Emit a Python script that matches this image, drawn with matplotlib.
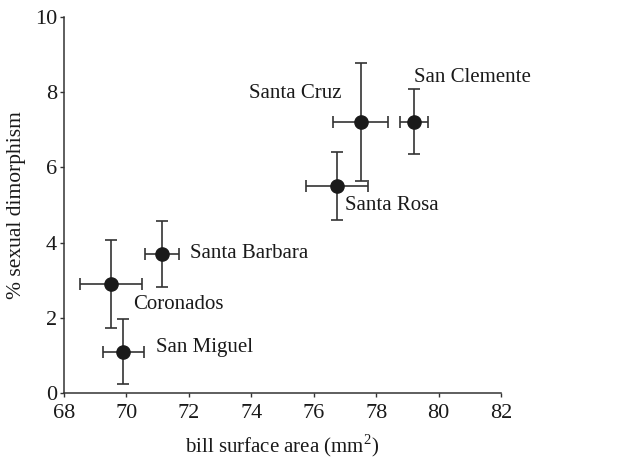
import matplotlib
matplotlib.use('Agg')
from matplotlib import pyplot as plt

# island data: bill surface area vs % sexual dimorphism
islands = ['Coronados', 'Santa Barbara', 'San Miguel', 'Santa Rosa', 'Santa Cruz', 'San Clemente']
area = [69.5, 71.15, 69.9, 76.75, 77.5, 79.2]
area_err = [1.0, 0.54, 0.66, 1.0, 0.87, 0.45]
dimorph = [2.9, 3.7, 1.1, 5.5, 7.22, 7.22]
dimorph_err = [1.18, 0.87, 0.86, 0.9, 1.57, 0.87]
# label anchor points (data coords) and alignment
label_x = [70.2, 72.05, 70.95, 77.0, 75.4, 79.2]
label_y = [2.35, 3.7, 1.2, 5.0, 7.97, 8.4]
label_ha = ['left', 'left', 'left', 'left', 'center', 'left']

plt.rcParams['font.family'] = ['Liberation Serif', 'DejaVu Serif']
plt.rcParams['mathtext.fontset'] = 'custom'
plt.rcParams['mathtext.rm'] = 'Liberation Serif'

fig = plt.figure(figsize=(6.44, 4.61), dpi=100)
ax = fig.add_axes([0.0994, 0.1475, 0.6786, 0.8155])

ax.errorbar(area, dimorph, xerr=area_err, yerr=dimorph_err, fmt='o',
            color='#1a1a1a', ecolor='#333333', elinewidth=1.2, capsize=4,
            capthick=1.2, markersize=9.5)

for name, lx, ly, ha in zip(islands, label_x, label_y, label_ha):
    ax.text(lx, ly, name, ha=ha, va='center', fontsize=15, color='#1a1a1a')

ax.set_xlim(68, 82)
ax.set_ylim(0, 10)
ax.set_xticks(range(68, 83, 2))
ax.set_yticks(range(0, 11, 2))
ax.tick_params(direction='out', length=3, width=1, labelsize=16, colors='#333333',
               labelcolor='#1a1a1a')
ax.tick_params(axis='x', pad=5)
ax.tick_params(axis='y', pad=2)
for s in ['top', 'right']:
    ax.spines[s].set_visible(False)
for s in ['left', 'bottom']:
    ax.spines[s].set_color('#333333')
    ax.spines[s].set_linewidth(1.1)

ax.set_xlabel('bill surface area (mm$^2$)', fontsize=15, color='#1a1a1a', labelpad=7)
ax.set_ylabel('% sexual dimorphism', fontsize=15.5, color='#1a1a1a', labelpad=6)

fig.savefig('out.png', dpi=100)
